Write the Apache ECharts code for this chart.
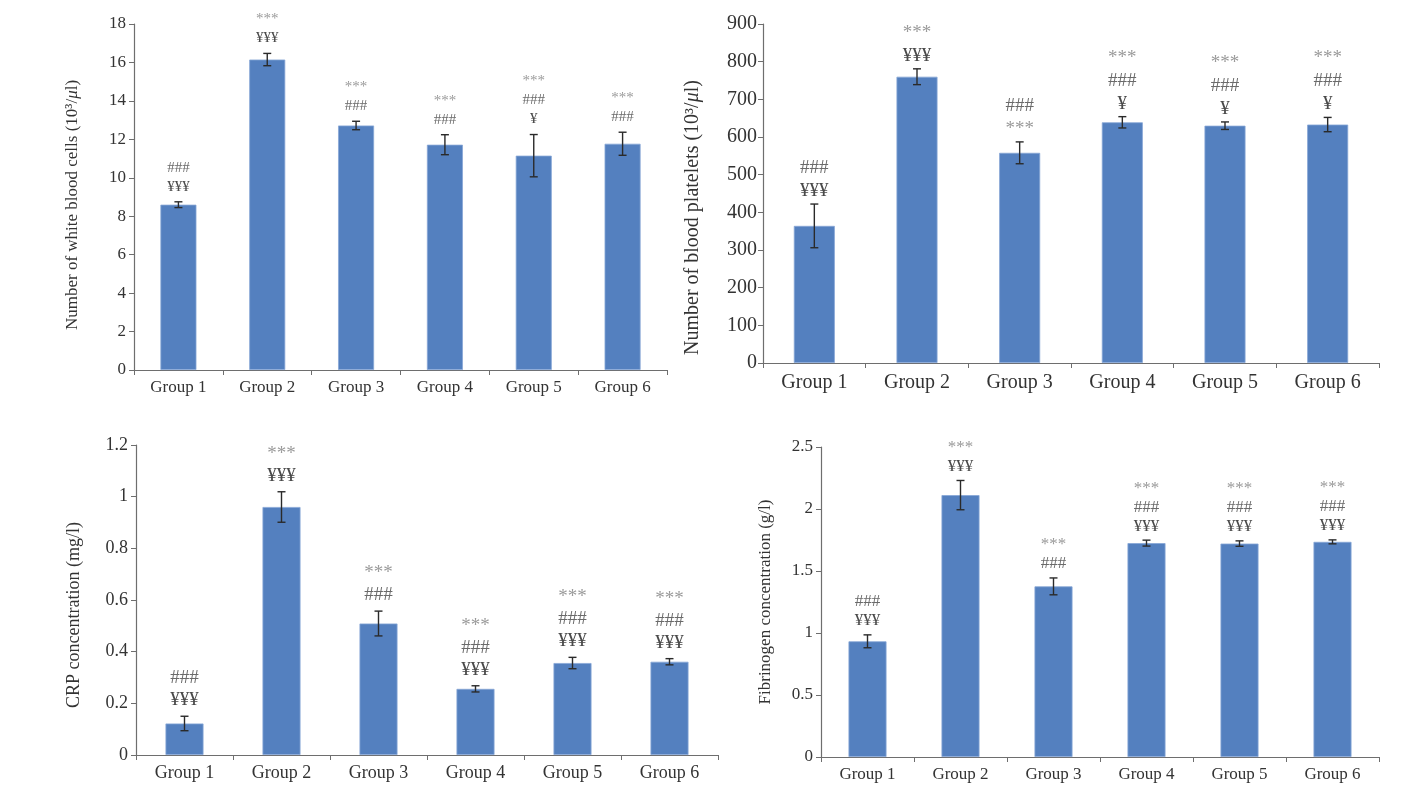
<!DOCTYPE html>
<html>
<head>
<meta charset="utf-8">
<script src="https://cdn.jsdelivr.net/npm/echarts@6/dist/echarts.min.js"></script>
<style>
  html, body { margin: 0; padding: 0; background: #fff; }
  #chart { width: 1426px; height: 802px; }
</style>
</head>
<body>
<div id="chart"></div>
<script>
// categories
const groups = ["Group 1", "Group 2", "Group 3", "Group 4", "Group 5", "Group 6"];

// white blood cells (10^3/ul)
const wbcMean = [8.6, 16.15, 12.72, 11.72, 11.15, 11.77];
const wbcErr = [0.15, 0.32, 0.22, 0.52, 1.1, 0.6];
const wbcMarks = [["###", "¥¥¥"], ["***", "¥¥¥"], ["***", "###"], ["***", "###"], ["***", "###", "¥"], ["***", "###"]];
const wbcTicks = [0, 2, 4, 6, 8, 10, 12, 14, 16, 18];

// blood platelets (10^3/ul)
const pltMean = [364, 760, 558, 639, 630, 633];
const pltErr = [58, 21, 29, 15, 10, 19];
const pltMarks = [["###", "¥¥¥"], ["***", "¥¥¥"], ["###", "***"], ["***", "###", "¥"], ["***", "###", "¥"], ["***", "###", "¥"]];
const pltTicks = [0, 100, 200, 300, 400, 500, 600, 700, 800, 900];

// CRP (mg/l)
const crpMean = [0.122, 0.96, 0.509, 0.256, 0.356, 0.361];
const crpErr = [0.028, 0.059, 0.048, 0.012, 0.022, 0.012];
const crpMarks = [["###", "¥¥¥"], ["***", "¥¥¥"], ["***", "###"], ["***", "###", "¥¥¥"], ["***", "###", "¥¥¥"], ["***", "###", "¥¥¥"]];
const crpTicks = [0, 0.2, 0.4, 0.6, 0.8, 1, 1.2];

// fibrinogen (g/l)
const fibMean = [0.933, 2.112, 1.376, 1.725, 1.721, 1.735];
const fibErr = [0.052, 0.118, 0.068, 0.024, 0.022, 0.016];
const fibMarks = [["###", "¥¥¥"], ["***", "¥¥¥"], ["***", "###"], ["***", "###", "¥¥¥"], ["***", "###", "¥¥¥"], ["***", "###", "¥¥¥"]];
const fibTicks = [0, 0.5, 1, 1.5, 2, 2.5];

const BAR = "#5480bf";
const FONT = "'Liberation Serif', 'DejaVu Serif', serif";

// panel layout
const panels = [
  { left: 134, top: 24, width: 533, height: 346, font: 17, markFont: 15, gap: 19, offset: 15, barWidth: 36,
    title: "Number of white blood cells (10³/{i|μ}l)", nameGap: 53, shift: 16, xMargin: 9, yMargin: 8,
    mean: wbcMean, err: wbcErr, marks: wbcMarks, ticks: wbcTicks },
  { left: 763, top: 24, width: 616, height: 339, font: 20, markFont: 19, gap: 23, offset: 13, barWidth: 41,
    title: "Number of blood platelets (10³/{i|μ}l)", nameGap: 60, shift: 48, xMargin: 10, yMargin: 6,
    mean: pltMean, err: pltErr, marks: pltMarks, ticks: pltTicks },
  { left: 136, top: 445, width: 582, height: 310, font: 18, markFont: 19, gap: 22, offset: 16, barWidth: 38,
    title: "CRP concentration (mg/l)", nameGap: 53, shift: 30, xMargin: 9, yMargin: 8,
    mean: crpMean, err: crpErr, marks: crpMarks, ticks: crpTicks },
  { left: 821, top: 447, width: 558, height: 310, font: 17, markFont: 17, gap: 19, offset: 14, barWidth: 38,
    title: "Fibrinogen concentration (g/l)", nameGap: 47, shift: 0, xMargin: 9, yMargin: 8,
    mean: fibMean, err: fibErr, marks: fibMarks, ticks: fibTicks }
];

function markColor(t) {
  if (t.indexOf("*") >= 0) return "#9a9a9a";
  if (t.indexOf("#") >= 0) return "#6a6a6a";
  return "#4a4a4a";
}

const grid = [], xAxis = [], yAxis = [], series = [];

panels.forEach((p, gi) => {
  const t = p.ticks;
  grid.push({ left: p.left, top: p.top, width: p.width, height: p.height });
  xAxis.push({
    type: "category",
    gridIndex: gi,
    data: groups,
    axisLine: { lineStyle: { color: "#6e6e6e", width: 1.2 } },
    axisTick: { show: true, length: 5, lineStyle: { color: "#6e6e6e" } },
    axisLabel: { color: "#333", fontFamily: FONT, fontSize: p.font, margin: p.xMargin }
  });
  yAxis.push({
    type: "value",
    gridIndex: gi,
    min: t[0],
    max: t[t.length - 1],
    interval: t[1] - t[0],
    name: p.title,
    nameLocation: "middle",
    nameRotate: 90,
    nameGap: p.nameGap,
    nameTextStyle: {
      color: "#333", fontFamily: FONT, fontSize: p.font,
      padding: [0, p.shift, 0, 0],
      rich: { i: { fontStyle: "italic", fontFamily: FONT, fontSize: p.font, color: "#333" } }
    },
    splitLine: { show: false },
    axisLine: { show: true, lineStyle: { color: "#6e6e6e", width: 1.2 } },
    axisTick: { show: true, length: 5, lineStyle: { color: "#6e6e6e" } },
    axisLabel: { color: "#333", fontFamily: FONT, fontSize: p.font, margin: p.yMargin }
  });
  series.push({
    type: "bar",
    xAxisIndex: gi,
    yAxisIndex: gi,
    data: p.mean,
    barWidth: p.barWidth,
    itemStyle: { color: BAR, borderColor: "#86a6d6", borderWidth: 0.8 },
    silent: true
  });
  // error bars and significance marks
  series.push({
    type: "custom",
    xAxisIndex: gi,
    yAxisIndex: gi,
    z: 10,
    silent: true,
    data: p.mean.map((m, i) => [i, m, p.err[i]]),
    renderItem: function (params, api) {
      const i = api.value(0), m = api.value(1), e = api.value(2);
      const hi = api.coord([i, m + e]);
      const lo = api.coord([i, m - e]);
      const cap = 4;
      const st = { stroke: "#2a2a2a", lineWidth: 1.4 };
      const children = [
        { type: "line", shape: { x1: hi[0], y1: hi[1], x2: lo[0], y2: lo[1] }, style: st },
        { type: "line", shape: { x1: hi[0] - cap, y1: hi[1], x2: hi[0] + cap, y2: hi[1] }, style: st },
        { type: "line", shape: { x1: lo[0] - cap, y1: lo[1], x2: lo[0] + cap, y2: lo[1] }, style: st }
      ];
      const lines = p.marks[params.dataIndex];
      lines.forEach((txt, k) => {
        const y = hi[1] - p.offset - (lines.length - 1 - k) * p.gap;
        children.push({
          type: "text",
          x: hi[0],
          y: y,
          style: {
            text: txt,
            fill: markColor(txt),
            font: p.markFont + "px " + FONT,
            align: "center",
            verticalAlign: "middle"
          }
        });
      });
      return { type: "group", children: children };
    }
  });
});

const chart = echarts.init(document.getElementById("chart"));
chart.setOption({
  animation: false,
  backgroundColor: "#fff",
  grid: grid,
  xAxis: xAxis,
  yAxis: yAxis,
  series: series
});
window.addEventListener("resize", () => chart.resize());
</script>
</body>
</html>
